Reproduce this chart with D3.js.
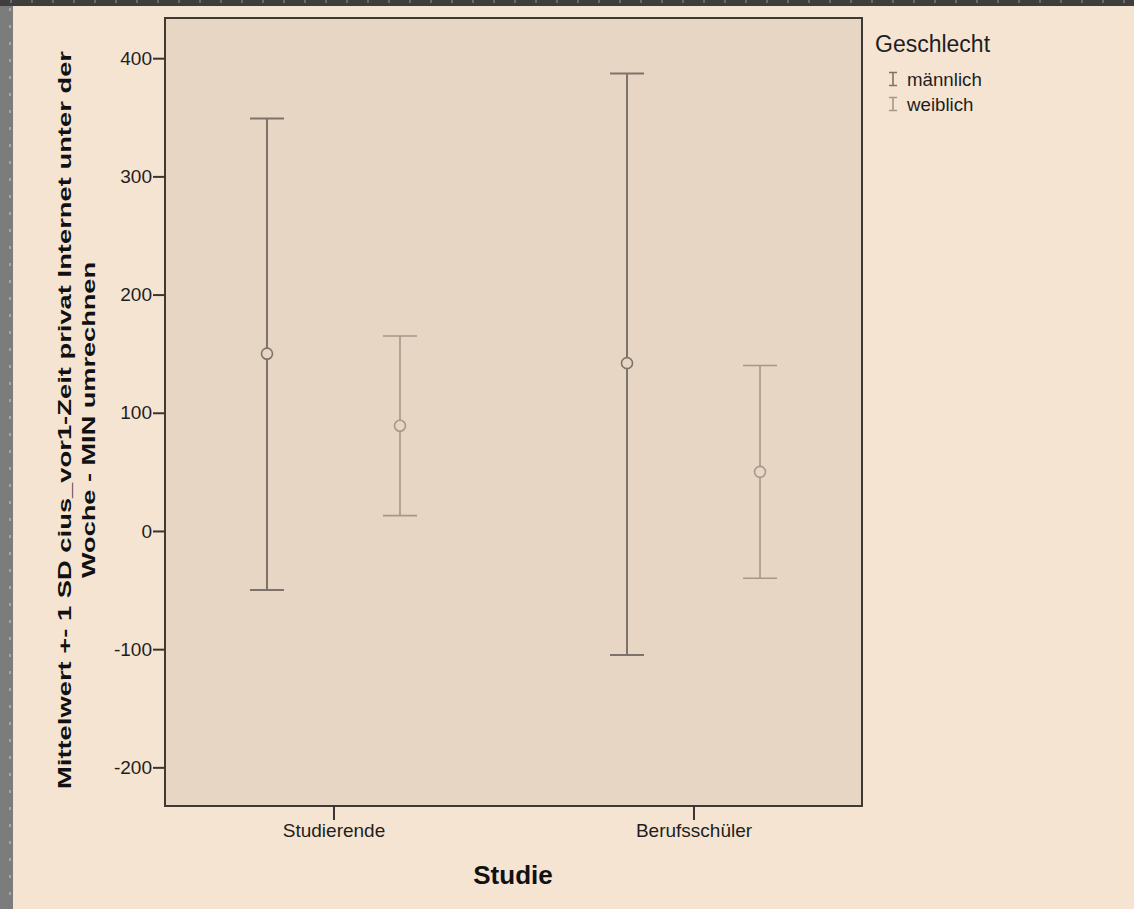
<!DOCTYPE html>
<html>
<head>
<meta charset="utf-8">
<script src="https://cdn.jsdelivr.net/npm/d3@7"></script>
<style>
  body { margin: 0; background: #f5e4d2; }
  svg { display: block; }
</style>
</head>
<body>
<div id="chart"></div>
<script>
// data
var studies = ["Studierende", "Berufsschüler"];
var genders = ["männlich", "weiblich"];
var means = [[150, 89], [142, 50]];       // [study][gender]
var lowers = [[-50, 13], [-105, -40]];
var uppers = [[349, 165], [387, 140]];
var yTicks = [-200, -100, 0, 100, 200, 300, 400];

var W = 1134, H = 909;
var plot = {left: 165, top: 18, right: 862, bottom: 806};
var font = "Liberation Sans, Arial, sans-serif";

var colors = {"männlich": "#7e736a", "weiblich": "#a5988b"};
var widths = {"männlich": 2, "weiblich": 1.6};

var svg = d3.select("#chart").append("svg")
  .attr("width", W).attr("height", H);

// window frame
svg.append("rect").attr("width", W).attr("height", H).attr("fill", "#f5e4d2");
svg.append("rect").attr("x", 0).attr("y", 0).attr("width", 13).attr("height", H).attr("fill", "#7c7c7c");
svg.append("rect").attr("x", 0).attr("y", 0).attr("width", W).attr("height", 6).attr("fill", "#3e3e3e");
svg.selectAll("rect.vdot").data(d3.range(0, H, 17)).enter().append("rect")
  .attr("class", "vdot").attr("x", 9).attr("y", function(d){ return d + 8; })
  .attr("width", 2).attr("height", 3).attr("fill", "#a5a5a5");
svg.selectAll("rect.hdot").data(d3.range(10, W, 21)).enter().append("rect")
  .attr("class", "hdot").attr("x", function(d){ return d; }).attr("y", 0)
  .attr("width", 2).attr("height", 3).attr("fill", "#6a6a6a");

var y = d3.scaleLinear()
  .domain([-232.7, 434])
  .range([plot.bottom, plot.top]);

var x = d3.scalePoint()
  .domain(studies)
  .range([plot.left, plot.right])
  .padding(0.468);

var xg = d3.scalePoint()
  .domain(genders)
  .range([-66.5, 66.5]);

// plot background
svg.append("rect")
  .attr("x", plot.left).attr("y", plot.top)
  .attr("width", plot.right - plot.left).attr("height", plot.bottom - plot.top)
  .attr("fill", "#e8d6c4");

// error bars
var rows = [];
studies.forEach(function(s, i) {
  genders.forEach(function(g, j) {
    rows.push({study: s, gender: g, mean: means[i][j], lo: lowers[i][j], hi: uppers[i][j]});
  });
});

var bars = svg.append("g").selectAll("g").data(rows).enter().append("g")
  .attr("transform", function(d){ return "translate(" + (x(d.study) + xg(d.gender)) + ",0)"; });

bars.append("line")
  .attr("x1", 0).attr("x2", 0)
  .attr("y1", function(d){ return y(d.hi); })
  .attr("y2", function(d){ return y(d.lo); })
  .attr("stroke", function(d){ return colors[d.gender]; })
  .attr("stroke-width", function(d){ return widths[d.gender]; });

bars.selectAll("line.cap")
  .data(function(d){ return [{v: d.hi, g: d.gender}, {v: d.lo, g: d.gender}]; })
  .enter().append("line")
  .attr("class", "cap")
  .attr("x1", -17).attr("x2", 17)
  .attr("y1", function(c){ return y(c.v); })
  .attr("y2", function(c){ return y(c.v); })
  .attr("stroke", function(c){ return colors[c.g]; })
  .attr("stroke-width", function(c){ return widths[c.g]; });

bars.append("circle")
  .attr("cx", 0)
  .attr("cy", function(d){ return y(d.mean); })
  .attr("r", 5.5)
  .attr("fill", "#e8d6c4")
  .attr("stroke", function(d){ return colors[d.gender]; })
  .attr("stroke-width", 1.6);

// plot border
svg.append("rect")
  .attr("x", plot.left).attr("y", plot.top)
  .attr("width", plot.right - plot.left).attr("height", plot.bottom - plot.top)
  .attr("fill", "none")
  .attr("stroke", "#3f3934")
  .attr("stroke-width", 2);

// axes
var yAxis = svg.append("g")
  .attr("transform", "translate(" + plot.left + ",0)")
  .call(d3.axisLeft(y).tickValues(yTicks).tickSize(12).tickPadding(1)
    .tickFormat(function(d){ return String(d); }));
var xAxis = svg.append("g")
  .attr("transform", "translate(0," + plot.bottom + ")")
  .call(d3.axisBottom(x).tickSize(14).tickPadding(4));

[yAxis, xAxis].forEach(function(a) {
  a.select(".domain").remove();
  a.selectAll(".tick line").attr("stroke", "#3a3530").attr("stroke-width", 2);
  a.selectAll(".tick text")
    .attr("fill", "#1e1e1e")
    .attr("font-family", font)
    .attr("font-size", 19);
});

// axis titles
svg.append("text")
  .attr("x", 513).attr("y", 884)
  .attr("text-anchor", "middle")
  .attr("font-family", font)
  .attr("font-weight", "bold")
  .attr("font-size", 26)
  .attr("fill", "#111")
  .text("Studie");

var yTitle = svg.append("g").attr("transform", "translate(0,420) rotate(-90)");
yTitle.append("text")
  .attr("x", 0).attr("y", 71)
  .attr("text-anchor", "middle")
  .attr("textLength", 738).attr("lengthAdjust", "spacingAndGlyphs")
  .attr("font-family", font)
  .attr("font-weight", "bold").attr("font-size", 19)
  .attr("fill", "#111")
  .text("Mittelwert +- 1 SD cius_vor1-Zeit privat Internet unter der");
yTitle.append("text")
  .attr("x", 0).attr("y", 95)
  .attr("text-anchor", "middle")
  .attr("textLength", 316).attr("lengthAdjust", "spacingAndGlyphs")
  .attr("font-family", font)
  .attr("font-weight", "bold").attr("font-size", 19)
  .attr("fill", "#111")
  .text("Woche - MIN umrechnen");

// legend
var legend = svg.append("g").attr("transform", "translate(875,0)");
legend.append("text")
  .attr("x", 0).attr("y", 52)
  .attr("font-family", font)
  .attr("font-size", 23)
  .attr("fill", "#1e1e1e")
  .text("Geschlecht");

var items = legend.selectAll("g.item").data(genders).enter().append("g")
  .attr("class", "item")
  .attr("transform", function(d, i){ return "translate(0," + (86 + i * 25) + ")"; });
items.append("path")
  .attr("d", "M14,-13.5 H22 M18,-13.5 V-0.5 M14,-0.5 H22")
  .attr("fill", "none")
  .attr("stroke", function(d){ return colors[d]; })
  .attr("stroke-width", 1.6);
items.append("text")
  .attr("x", 32).attr("y", 0)
  .attr("font-family", font)
  .attr("font-size", 18.7)
  .attr("fill", "#1e1e1e")
  .text(function(d){ return d; });
</script>
</body>
</html>
